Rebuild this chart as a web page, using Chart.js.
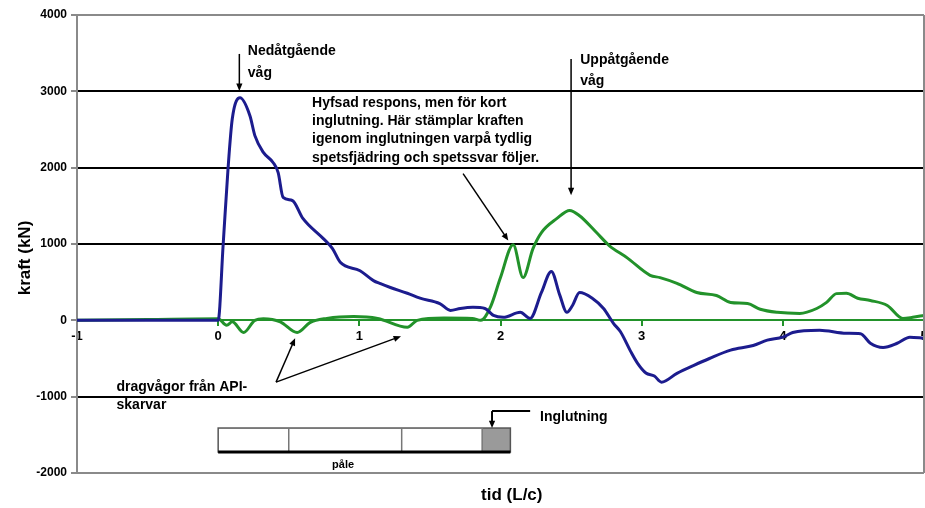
<!DOCTYPE html>
<html>
<head>
<meta charset="utf-8">
<script src="https://cdn.jsdelivr.net/npm/chart.js@4.4.0/dist/chart.umd.min.js"></script>
<style>
    html, body { margin: 0; padding: 0; background: #fff; }
    #wrap { width: 925px; height: 508px; }
</style>
</head>
<body>
<div id="wrap"><canvas id="chart" width="925" height="508"></canvas></div>
<script>
// Mätdata: nedåtgående (blå) och uppåtgående (grön) våg, tid i L/c, kraft i kN
const blueTid = [-1, 0, 0.035, 0.07, 0.1, 0.155, 0.225, 0.26, 0.32, 0.39, 0.425, 0.46, 0.525, 0.6, 0.745,
    0.81, 0.865, 1.005, 1.1, 1.15, 1.22, 1.34, 1.43, 1.57, 1.645, 1.715, 1.805, 1.89, 1.95, 2.02,
    2.14, 2.21, 2.29, 2.36, 2.42, 2.47, 2.51, 2.56, 2.65, 2.73, 2.8, 2.85, 2.92, 2.97, 3.03, 3.09, 3.14,
    3.25, 3.37, 3.48, 3.63, 3.79, 3.89, 4.0, 4.07, 4.26, 4.45, 4.55, 4.62, 4.71, 4.81, 4.9, 5.0];
const blueKraft = [0, 0, 980, 1990, 2640, 2915, 2680, 2420, 2200, 2065, 1935, 1610, 1570, 1335, 1070,
    940, 760, 650, 520, 480, 430, 355, 290, 220, 130, 155, 170, 155, 65, 40,
    105, 25, 365, 640, 330, 105, 195, 365, 290, 155, -40, -150, -400, -560, -690, -730, -810,
    -695, -590, -500, -390, -330, -260, -220, -160, -130, -170, -175, -300, -355, -300, -220, -235];

const greenTid = [-1, -0.5, 0, 0.06, 0.1, 0.18, 0.26, 0.32, 0.44, 0.56, 0.65, 0.77, 0.96, 1.13, 1.34,
    1.41, 1.6, 1.8, 1.86, 1.93, 2.0, 2.09, 2.16, 2.23, 2.29, 2.4, 2.49, 2.56, 2.68, 2.77,
    2.9, 3.06, 3.13, 3.25, 3.39, 3.53, 3.63, 3.75, 3.84, 3.96, 4.12, 4.24, 4.31, 4.38, 4.45,
    4.53, 4.62, 4.74, 4.85, 4.92, 5.0];
const greenKraft = [0, 10, 20, -65, -20, -160, 0, 20, -20, -160, -30, 25, 50, 25, -90,
    0, 30, 25, 0, 180, 560, 990, 560, 940, 1150, 1335, 1440, 1370, 1150, 980,
    815, 590, 560, 485, 365, 325, 235, 220, 145, 105, 90, 155, 235, 350, 355,
    290, 260, 195, 25, 40, 65];

const xTicks = [-1, 0, 1, 2, 3, 4, 5];
const yTicks = [-2000, -1000, 0, 1000, 2000, 3000, 4000];

const BLUE = '#1c1c8e';
const GREEN = '#22922a';
const FONT = '"Liberation Sans", Arial, sans-serif';

function toPoints(xs, ys) {
    return xs.map((x, i) => ({ x: x, y: ys[i] }));
}

function arrow(ctx, x1, y1, x2, y2) {
    const ang = Math.atan2(y2 - y1, x2 - x1);
    const len = 8;
    ctx.beginPath();
    ctx.moveTo(x1, y1);
    ctx.lineTo(x2 - Math.cos(ang) * 4, y2 - Math.sin(ang) * 4);
    ctx.stroke();
    ctx.beginPath();
    ctx.moveTo(x2, y2);
    ctx.lineTo(x2 - len * Math.cos(ang - 0.4), y2 - len * Math.sin(ang - 0.4));
    ctx.lineTo(x2 - len * Math.cos(ang + 0.4), y2 - len * Math.sin(ang + 0.4));
    ctx.closePath();
    ctx.fill();
}

// Texter, pilar och pålskiss ritas ovanpå diagrammet
const annotations = {
    id: 'annotations',
    afterDraw(chart) {
        const { ctx, chartArea, scales } = chart;
        const px = v => scales.x.getPixelForValue(v);
        const py = v => scales.y.getPixelForValue(v);
        ctx.save();

        // ram till höger
        ctx.strokeStyle = '#8a8a8a';
        ctx.lineWidth = 2;
        ctx.beginPath();
        ctx.moveTo(chartArea.right, chartArea.top);
        ctx.lineTo(chartArea.right, chartArea.bottom);
        ctx.stroke();

        ctx.fillStyle = '#000';
        ctx.strokeStyle = '#000';
        ctx.lineWidth = 1.5;
        ctx.textBaseline = 'middle';
        ctx.textAlign = 'left';
        ctx.font = 'bold 14px ' + FONT;

        ctx.fillText('Nedåtgående', px(0.21), py(3530));
        ctx.fillText('våg', px(0.21), py(3240));
        arrow(ctx, px(0.15), py(3490), px(0.15), py(3005));

        ctx.fillText('Uppåtgående', px(2.565), py(3410));
        ctx.fillText('våg', px(2.565), py(3137));
        arrow(ctx, px(2.5), py(3425), px(2.5), py(1640));

        const hyfsad = [
            'Hyfsad respons, men för kort',
            'inglutning. Här stämplar kraften',
            'igenom inglutningen varpå tydlig',
            'spetsfjädring och spetssvar följer.'
        ];
        const rows = [2850, 2614, 2379, 2130];
        hyfsad.forEach((t, i) => ctx.fillText(t, px(0.665), py(rows[i])));
        arrow(ctx, px(1.735), py(1921), px(2.055), py(1046));

        ctx.fillText('dragvågor från API-', px(-0.72), py(-876));
        ctx.fillText('skarvar', px(-0.72), py(-1111));
        arrow(ctx, px(0.41), py(-810), px(0.545), py(-235));
        arrow(ctx, px(0.41), py(-810), px(1.295), py(-209));

        // påle
        const top = py(-1411), bot = py(-1725);
        ctx.fillStyle = '#fff';
        ctx.fillRect(px(0), top, px(2.07) - px(0), bot - top);
        ctx.fillStyle = '#9a9a9a';
        ctx.fillRect(px(1.87), top, px(2.07) - px(1.87), bot - top);
        ctx.strokeStyle = '#555';
        ctx.lineWidth = 1.5;
        ctx.strokeRect(px(0), top, px(2.07) - px(0), bot - top);
        ctx.strokeStyle = '#777';
        [0.5, 1.3, 1.87].forEach(t => {
            ctx.beginPath();
            ctx.moveTo(px(t), top);
            ctx.lineTo(px(t), bot);
            ctx.stroke();
        });
        ctx.strokeStyle = '#000';
        ctx.lineWidth = 3;
        ctx.beginPath();
        ctx.moveTo(px(0), bot);
        ctx.lineTo(px(2.07), bot);
        ctx.stroke();

        ctx.fillStyle = '#000';
        ctx.font = 'bold 11px ' + FONT;
        ctx.textAlign = 'center';
        ctx.fillText('påle', px(0.885), py(-1895));

        ctx.font = 'bold 14px ' + FONT;
        ctx.textAlign = 'left';
        ctx.fillText('Inglutning', px(2.28), py(-1268));
        ctx.lineWidth = 2;
        ctx.beginPath();
        ctx.moveTo(px(2.21), py(-1189));
        ctx.lineTo(px(1.94), py(-1189));
        ctx.stroke();
        arrow(ctx, px(1.94), py(-1189), px(1.94), top);

        // axeltitlar
        ctx.font = 'bold 17px ' + FONT;
        ctx.textAlign = 'center';
        ctx.fillText('tid (L/c)', px(2.08), 495);
        ctx.translate(25, 258);
        ctx.rotate(-Math.PI / 2);
        ctx.fillText('kraft (kN)', 0, 0);
        ctx.restore();
    }
};

document.addEventListener('DOMContentLoaded', () => {
    const ctx = document.getElementById('chart').getContext('2d');
    new Chart(ctx, {
        type: 'line',
        data: {
            datasets: [{
                label: 'Nedåtgående',
                data: toPoints(blueTid, blueKraft),
                borderColor: BLUE,
                borderWidth: 3,
                pointRadius: 0,
                cubicInterpolationMode: 'monotone',
                fill: false
            }, {
                label: 'Uppåtgående',
                data: toPoints(greenTid, greenKraft),
                borderColor: GREEN,
                borderWidth: 3,
                pointRadius: 0,
                cubicInterpolationMode: 'monotone',
                fill: false
            }]
        },
        options: {
            responsive: false,
            animation: false,
            layout: { padding: { top: 15, right: 1, bottom: 35, left: 0 } },
            plugins: {
                legend: { display: false },
                tooltip: { enabled: false }
            },
            scales: {
                x: {
                    type: 'linear',
                    position: { y: 0 },
                    min: -1,
                    max: 5,
                    afterBuildTicks: scale => { scale.ticks = xTicks.map(v => ({ value: v })); },
                    afterFit: scale => { scale.paddingLeft = 0; scale.paddingRight = 0; },
                    grid: { drawOnChartArea: false, drawTicks: true, tickLength: 5, color: GREEN, lineWidth: 2 },
                    border: { color: GREEN, width: 2 },
                    ticks: {
                        autoSkip: false,
                        maxRotation: 0,
                        padding: 3,
                        color: '#000',
                        font: { family: FONT, size: 13, weight: 'bold' },
                        callback: v => String(v)
                    }
                },
                y: {
                    min: -2000,
                    max: 4000,
                    afterBuildTicks: scale => { scale.ticks = yTicks.map(v => ({ value: v })); },
                    afterFit: scale => { scale.width = 77; },
                    grid: {
                        color: c => {
                            const v = c.tick ? c.tick.value : 0;
                            if (v === 0) return 'rgba(0,0,0,0)';
                            if (v === 4000 || v === -2000) return '#8a8a8a';
                            return '#000';
                        },
                        tickColor: '#8a8a8a',
                        lineWidth: 2,
                        tickLength: 6
                    },
                    border: { color: '#8a8a8a', width: 2 },
                    ticks: {
                        padding: 4,
                        color: '#000',
                        font: { family: FONT, size: 12, weight: 'bold' },
                        callback: v => String(v)
                    }
                }
            }
        },
        plugins: [annotations]
    });
});
</script>
</body>
</html>
